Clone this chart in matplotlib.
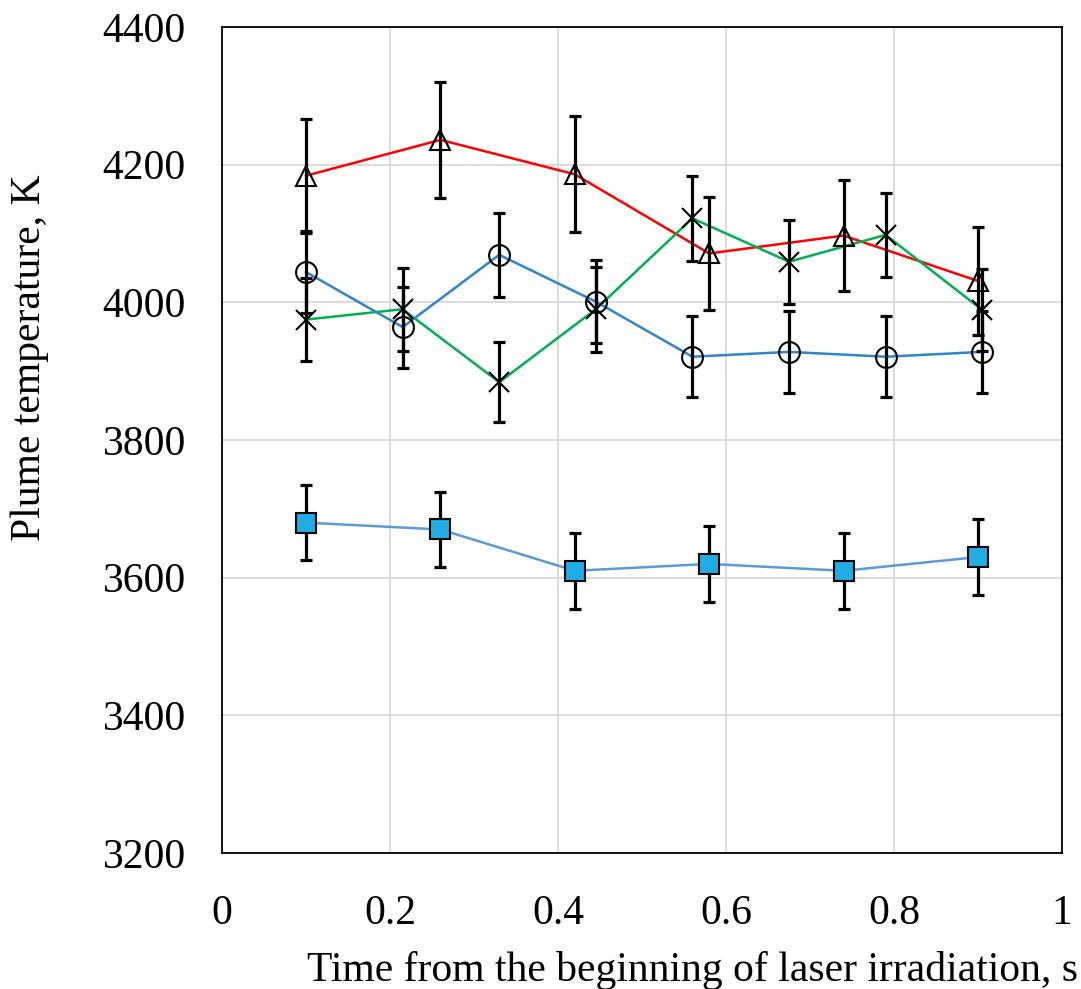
import matplotlib.pyplot as plt

# Data
t_sq = [0.10, 0.26, 0.42, 0.58, 0.74, 0.90]
T_sq = [3680, 3670, 3610, 3620, 3610, 3630]
err_sq = [55, 55, 55, 55, 55, 55]

t_tri = [0.10, 0.26, 0.42, 0.58, 0.74, 0.90]
T_tri = [4184, 4236, 4186, 4071, 4097, 4031]
err_tri = [83, 84, 84, 82, 81, 79]

t_circ = [0.10, 0.215, 0.33, 0.445, 0.56, 0.675, 0.79, 0.905]
T_circ = [4044, 3964, 4069, 4001, 3921, 3928, 3921, 3928]
err_circ = [60, 59, 61, 60, 59, 60, 59, 60]

t_x = [0.10, 0.215, 0.33, 0.445, 0.56, 0.675, 0.79, 0.905]
T_x = [3975, 3990, 3884, 3990, 4122, 4059, 4098, 3989]
err_x = [60, 60, 58, 62, 62, 61, 61, 60]

x_ticks = [0, 0.2, 0.4, 0.6, 0.8, 1.0]
x_labels = ['0', '0.2', '0.4', '0.6', '0.8', '1']
y_ticks = [3200, 3400, 3600, 3800, 4000, 4200, 4400]

plt.rcParams['font.family'] = ['Liberation Serif', 'DejaVu Serif']

fig = plt.figure(figsize=(10.81, 9.89), dpi=100)
ax = fig.add_axes([0.2054, 0.1375, 0.777, 0.8352])

eb = dict(fmt='none', ecolor='black', elinewidth=2.3, capsize=4.5, capthick=2.3, zorder=3)
mk = dict(ms=15, mec='black', mew=1.5, zorder=4, ls='none')

# lines
ax.plot(t_tri, T_tri, color='#ff0000', lw=1.8, zorder=2)
ax.plot(t_x, T_x, color='#00b050', lw=1.8, zorder=2)
ax.plot(t_circ, T_circ, color='#2e86c8', lw=1.8, zorder=2)
ax.plot(t_sq, T_sq, color='#5b9bd5', lw=1.8, zorder=2)

# error bars
ax.errorbar(t_tri, T_tri, yerr=err_tri, **eb)
ax.errorbar(t_x, T_x, yerr=err_x, **eb)
ax.errorbar(t_circ, T_circ, yerr=err_circ, **eb)
ax.errorbar(t_sq, T_sq, yerr=err_sq, **eb)

# markers
ax.plot(t_tri, T_tri, marker='^', mfc='none', **mk)
ax.plot(t_x, T_x, marker='x', **mk)
ax.plot(t_circ, T_circ, marker='o', mfc='none', **mk)
ax.plot(t_sq, T_sq, marker='s', mfc='#1fade4', **mk)

ax.set_xlim(0, 1)
ax.set_ylim(3200, 4400)
ax.set_xticks(x_ticks)
ax.set_xticklabels(x_labels)
ax.set_yticks(y_ticks)
ax.grid(True, color='#d9d9d9', lw=1.3)
ax.set_axisbelow(True)
for s in ax.spines.values():
    s.set_linewidth(1.3)
ax.tick_params(length=0, labelsize=30)
ax.tick_params(axis='x', pad=30)
ax.tick_params(axis='y', pad=26)

fig.text(0.0278, 0.638, 'Plume temperature, K', fontsize=30,
         rotation=90, ha='center', va='center')
fig.text(0.997, 0.0084, 'Time from the beginning of laser irradiation, s',
         fontsize=30, ha='right', va='baseline')

plt.savefig('out.png', dpi=100)
